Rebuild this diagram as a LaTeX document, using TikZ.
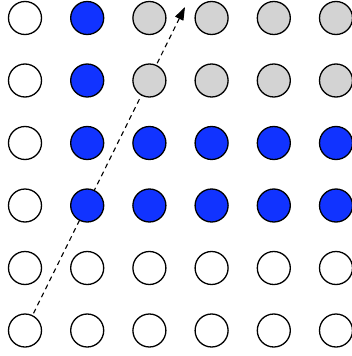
\documentclass[tikz,border=0pt]{standalone}
\usetikzlibrary{arrows.meta,backgrounds}
\definecolor{dotblue}{HTML}{1133FF}
\definecolor{dotgray}{HTML}{D3D3D3}
\begin{document}
\begin{tikzpicture}[x=1pt,y=-1pt,
  dot/.style={circle,draw=black,line width=1.3pt,minimum size=33pt,inner sep=0pt},
  wdot/.style={dot,fill=white},
  bdot/.style={dot,fill=dotblue},
  gdot/.style={dot,fill=dotgray},
  arr/.style={line width=1.1pt,dash pattern=on 5pt off 4pt,shorten <=2pt,-{Triangle[length=13pt,width=9pt]}}]
\useasboundingbox (0,0) rectangle (352,356);
\foreach \r/\styles in {0/{w,b,g,g,g,g},1/{w,b,g,g,g,g},2/{w,b,b,b,b,b},3/{w,b,b,b,b,b},4/{w,w,w,w,w,w},5/{w,w,w,w,w,w}}{
  \foreach \s [count=\c from 0] in \styles {
    \node[\s dot] (c\c\r) at (25+62.2*\c, 18+62.5*\r) {};
  }
}
\coordinate (tip) at (185,7);
\begin{scope}[on background layer]
\draw[arr] (c05) -- (tip);
\end{scope}
\end{tikzpicture}
\end{document}
